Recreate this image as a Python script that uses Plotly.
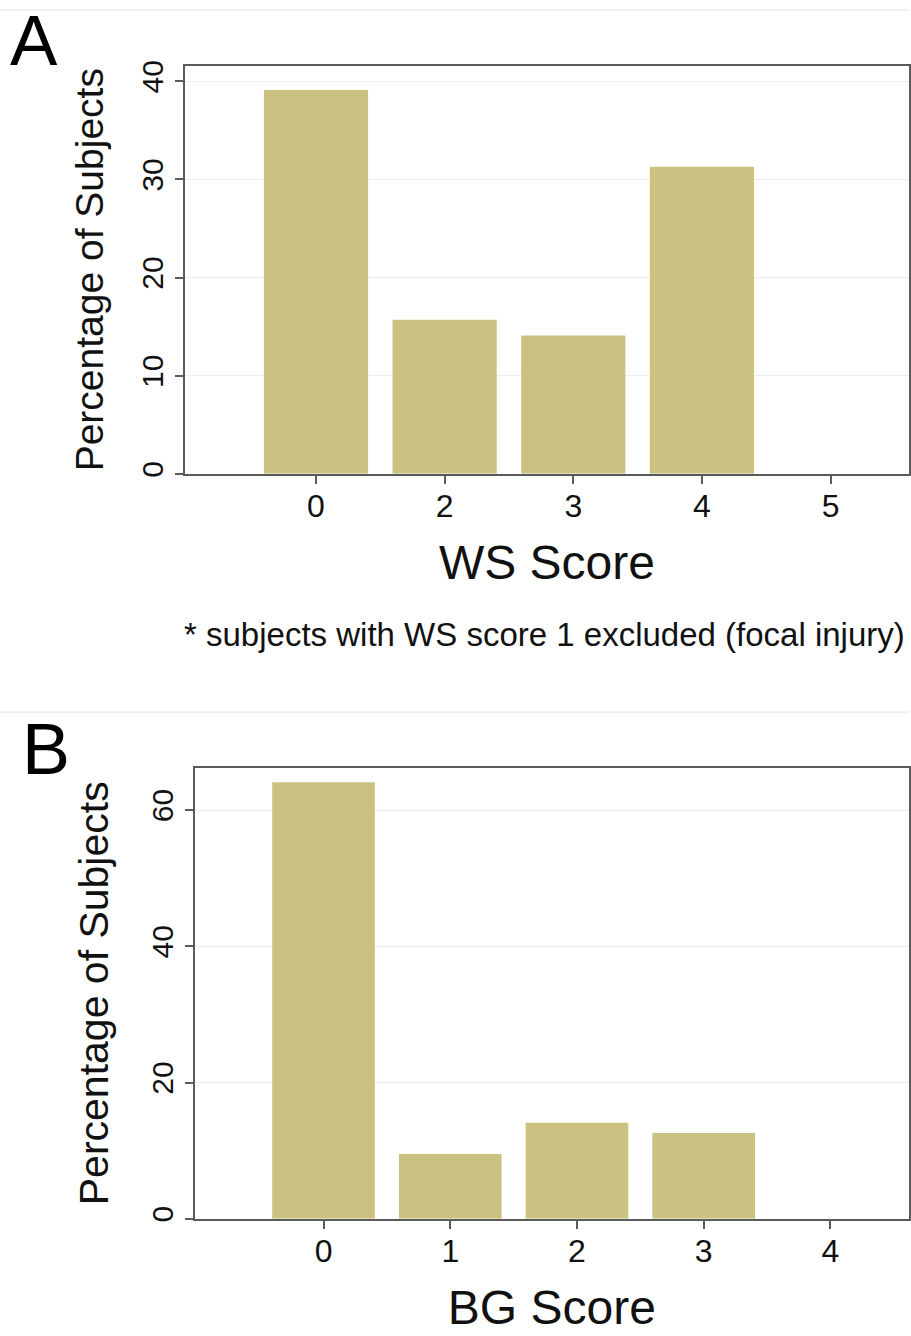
import plotly.graph_objects as go

# Panel A data
ws_scores = ["0", "2", "3", "4", "5"]
ws_percent = [39.1, 15.7, 14.1, 31.3, 0]

# Panel B data
bg_scores = ["0", "1", "2", "3", "4"]
bg_percent = [64.1, 9.5, 14.1, 12.6, 0]

W, H = 911, 1336
BAR = "#cbc281"
FONT = "Liberation Sans, Arial, sans-serif"
FRAME = "#5a5a5a"
GRID = "#e9eff1"

def px_x(p):
    return p / W

def px_y(p):
    return 1 - p / H

fig = go.Figure()
fig.add_trace(go.Bar(x=ws_scores, y=ws_percent, marker_color=BAR, marker_line_width=0,
                     xaxis="x", yaxis="y", showlegend=False))
fig.add_trace(go.Bar(x=bg_scores, y=bg_percent, marker_color=BAR, marker_line_width=0,
                     xaxis="x2", yaxis="y2", showlegend=False))

common_axis = dict(showline=True, linecolor=FRAME, linewidth=1.5, mirror=True,
                   ticks="outside", ticklen=8, tickcolor=FRAME, tickwidth=1.5,
                   zeroline=False)
xtick = dict(tickfont=dict(family=FONT, size=32, color="#111"), ticklabelstandoff=-5)
ytick = dict(tickfont=dict(family=FONT, size=30, color="#111"))

fig.update_layout(
    width=W, height=H,
    margin=dict(l=0, r=0, t=0, b=0),
    paper_bgcolor="white", plot_bgcolor="white",
    bargap=0.19,
    font=dict(family=FONT, color="#111"),
    xaxis=dict(domain=[px_x(185), px_x(910)], anchor="y", type="category",
               categoryorder="array", categoryarray=ws_scores,
               range=[-1.02, 4.61], showgrid=False,
               title=dict(text="WS Score", font=dict(family=FONT, size=48, color="#111"), standoff=22),
               **common_axis, **xtick),
    yaxis=dict(domain=[px_y(472), px_y(61)], anchor="x", range=[0, 41.6],
               tickvals=[0, 10, 20, 30, 40], tickangle=-90, showgrid=True,
               gridcolor=GRID, gridwidth=1,
               title=dict(text="Percentage of Subjects", font=dict(family=FONT, size=39, color="#111"), standoff=20),
               **common_axis, **ytick),
    xaxis2=dict(domain=[px_x(195), px_x(910)], anchor="y2", type="category",
                categoryorder="array", categoryarray=bg_scores,
                range=[-1.016, 4.62], showgrid=False,
                title=dict(text="BG Score", font=dict(family=FONT, size=48, color="#111"), standoff=22),
                **common_axis, **xtick),
    yaxis2=dict(domain=[px_y(1222), px_y(768)], anchor="x2", range=[0, 66.2],
                tickvals=[0, 20, 40, 60], tickangle=-90, showgrid=True,
                gridcolor=GRID, gridwidth=1,
                title=dict(text="Percentage of Subjects", font=dict(family=FONT, size=41, color="#111"), standoff=25),
                **common_axis, **ytick),
)

fig.add_annotation(text="A", x=px_x(34), y=px_y(36), xref="paper", yref="paper",
                   showarrow=False, font=dict(family=FONT, size=71, color="#000"),
                   xanchor="center", yanchor="middle")
fig.add_annotation(text="B", x=px_x(46), y=px_y(749), xref="paper", yref="paper",
                   showarrow=False, font=dict(family=FONT, size=72, color="#000"),
                   xanchor="center", yanchor="middle")
fig.add_annotation(text="* subjects with WS score 1 excluded (focal injury)",
                   x=px_x(908), y=px_y(634), xref="paper", yref="paper",
                   showarrow=False, font=dict(family=FONT, size=33, color="#111"),
                   xanchor="right", yanchor="middle")

# faint panel separators
for yy in (5, 712):
    fig.add_shape(type="line", xref="paper", yref="paper", x0=0, x1=1,
                  y0=px_y(yy), y1=px_y(yy), line=dict(color="#f0f0f0", width=2))

fig.write_html("out.html", config={"displayModeBar": False},
               post_script="document.body.style.margin='0';document.body.style.overflow='hidden';")
